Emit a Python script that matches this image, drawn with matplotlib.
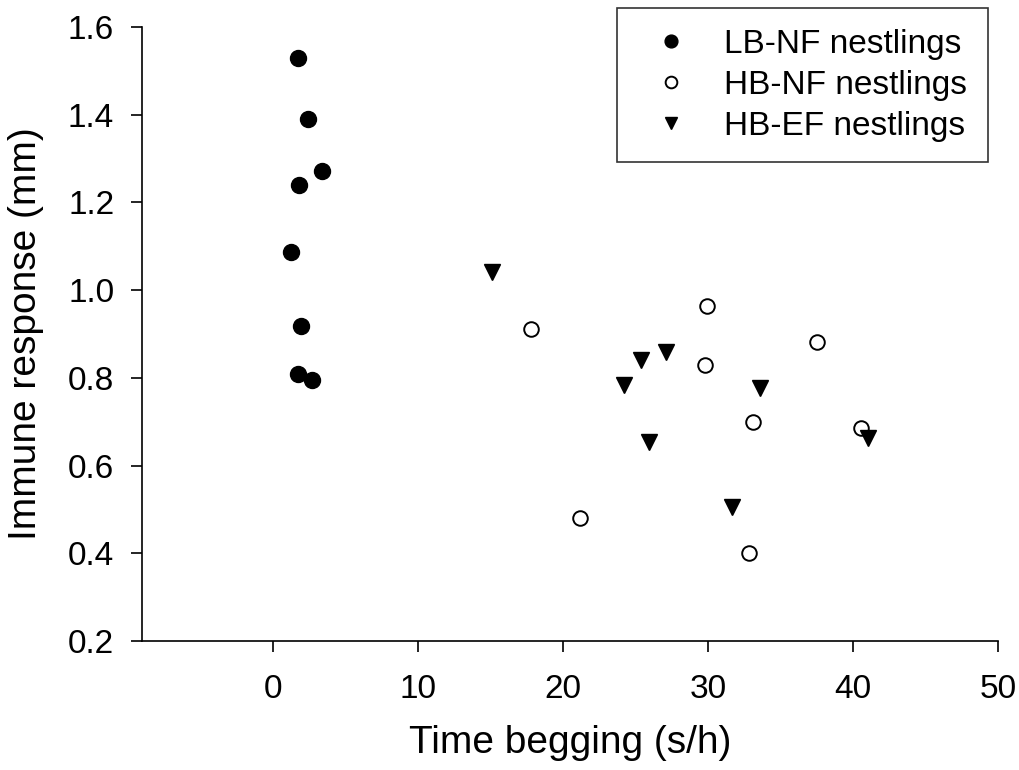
import matplotlib
matplotlib.use("Agg")
import matplotlib.pyplot as plt

plt.rcParams['font.family'] = ['Liberation Sans', 'DejaVu Sans']

# LB-NF nestlings (filled circles)
lb_nf_x = [1.76, 2.43, 3.39, 1.81, 1.27, 1.95, 1.76, 2.71]
lb_nf_y = [1.530, 1.390, 1.272, 1.240, 1.087, 0.919, 0.809, 0.796]

# HB-NF nestlings (open circles)
hb_nf_x = [17.79, 29.94, 37.51, 29.83, 33.13, 40.54, 21.16, 32.85]
hb_nf_y = [0.912, 0.963, 0.882, 0.829, 0.699, 0.686, 0.481, 0.401]

# HB-EF nestlings (filled down-triangles)
hb_ef_x = [15.14, 25.41, 27.12, 24.24, 33.61, 41.07, 25.96, 31.64]
hb_ef_y = [1.042, 0.841, 0.858, 0.784, 0.778, 0.664, 0.653, 0.506]

labels = ["LB-NF nestlings", "HB-NF nestlings", "HB-EF nestlings"]
x_ticks = [0, 10, 20, 30, 40, 50]
y_ticks = [0.2, 0.4, 0.6, 0.8, 1.0, 1.2, 1.4, 1.6]

fig = plt.figure(figsize=(10.19, 7.70), dpi=100)
ax = fig.add_axes([142/1019, 1 - 641/770, (998 - 142)/1019, (641 - 27)/770])

ax.plot(lb_nf_x, lb_nf_y, linestyle='none', marker='o', markersize=11.5,
        markerfacecolor='black', markeredgecolor='black', label=labels[0])
ax.plot(hb_nf_x, hb_nf_y, linestyle='none', marker='o', markersize=10.5,
        markerfacecolor='white', markeredgecolor='black', markeredgewidth=1.4,
        label=labels[1])
ax.plot(hb_ef_x, hb_ef_y, linestyle='none', marker='v', markersize=11.5,
        markerfacecolor='black', markeredgecolor='black', label=labels[2])

ax.set_xlim(-9, 50)
ax.set_ylim(0.2, 1.6)
ax.set_xticks(x_ticks)
ax.set_yticks(y_ticks)
ax.set_yticklabels([f"{v:.1f}" for v in y_ticks])

for side in ['top', 'right']:
    ax.spines[side].set_visible(False)
for side in ['left', 'bottom']:
    ax.spines[side].set_linewidth(1.2)

ax.tick_params(axis='x', direction='out', length=8, width=1.2, pad=16, labelsize=24)
ax.tick_params(axis='y', direction='out', length=8, width=1.2, pad=12, labelsize=24)

ax.set_xlabel("Time begging (s/h)", fontsize=28, labelpad=14)
ax.set_ylabel("Immune response (mm)", fontsize=28, labelpad=17)

leg = ax.legend(loc='upper right', bbox_to_anchor=(988/1019, 1 - 8/770),
                bbox_transform=fig.transFigure, borderaxespad=0,
                fontsize=24, markerscale=0.8, frameon=True, fancybox=False,
                edgecolor='black', handlelength=2.0, handletextpad=0.6,
                borderpad=0.62, labelspacing=0.3)
leg.get_frame().set_linewidth(1.2)

fig.savefig("out.png", dpi=100, facecolor='white')
